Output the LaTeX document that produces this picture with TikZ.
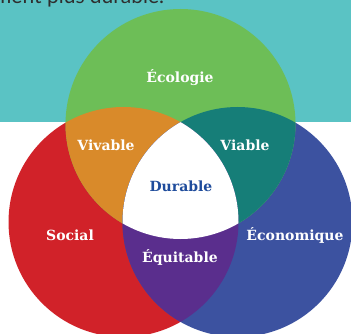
\documentclass[tikz,border=0pt]{standalone}
\usepackage{fontspec}
\setmainfont{DejaVu Serif}
\newfontfamily\headfont{Lato}
\usepackage{xcolor}
\usetikzlibrary{positioning}
\definecolor{bandteal}{HTML}{5AC3C4}
\definecolor{ecogreen}{HTML}{6DBE57}
\definecolor{socred}{HTML}{D12229}
\definecolor{econblue}{HTML}{3C52A0}
\definecolor{vivorange}{HTML}{D98A2A}
\definecolor{viateal}{HTML}{167E78}
\definecolor{equipurple}{HTML}{5A2E8D}
\definecolor{durblue}{HTML}{1F4C9C}
\definecolor{headgray}{HTML}{2E2E2E}
\tikzstyle{setname} = [anchor=base, inner sep=0pt, text=white, font=\bfseries\fontsize{14}{16}\selectfont]
\tikzstyle{headline} = [anchor=base west, inner sep=0pt, text=headgray, font=\headfont\fontsize{21}{25}\selectfont]

\begin{document}
\begin{tikzpicture}[x=1pt, y=-1pt]
    \useasboundingbox (0,0) rectangle (351,334);
    \clip (0,0) rectangle (351,334);
    \fill[white] (0,0) rectangle (351,334);

    % Centres
    \coordinate (eco) at (180.5,124);
    \coordinate (soc) at (123.5,222);
    \coordinate (econ) at (237.5,222);

    % Social and economic circles, partly hidden by the band
    \fill[socred] (soc) circle (115pt);
    \fill[econblue] (econ) circle (115pt);

    % Band
    \fill[bandteal] (0,0) rectangle (351,122);
    \node[headline] (head) at (-6,4) {ment plus durable.};

    % Ecology circle
    \fill[ecogreen] (eco) circle (115pt);

    % Overlaps
    \begin{scope}
        \clip (eco) circle (115pt);
        \fill[vivorange] (soc) circle (115pt);
        \fill[viateal] (econ) circle (115pt);
    \end{scope}
    \begin{scope}
        \clip (soc) circle (115pt);
        \fill[equipurple] (econ) circle (115pt);
        \clip (econ) circle (115pt);
        \fill[white] (eco) circle (115pt);
    \end{scope}

    % Names
    \node[setname] (ecolo) at (180,83) {Écologie};
    \node[setname] (vivable) at (106,150.5) {Vivable};
    \node[setname] (viable) at (245,150.5) {Viable};
    \node[setname, text=durblue] (durable) at (181,191.5) {Durable};
    \node[setname] (social) at (70,240.5) {Social};
    \node[setname] (equit) at (180,262.5) {Équitable};
    \node[setname] (econo) at (295,240.5) {Économique};
\end{tikzpicture}
\end{document}
